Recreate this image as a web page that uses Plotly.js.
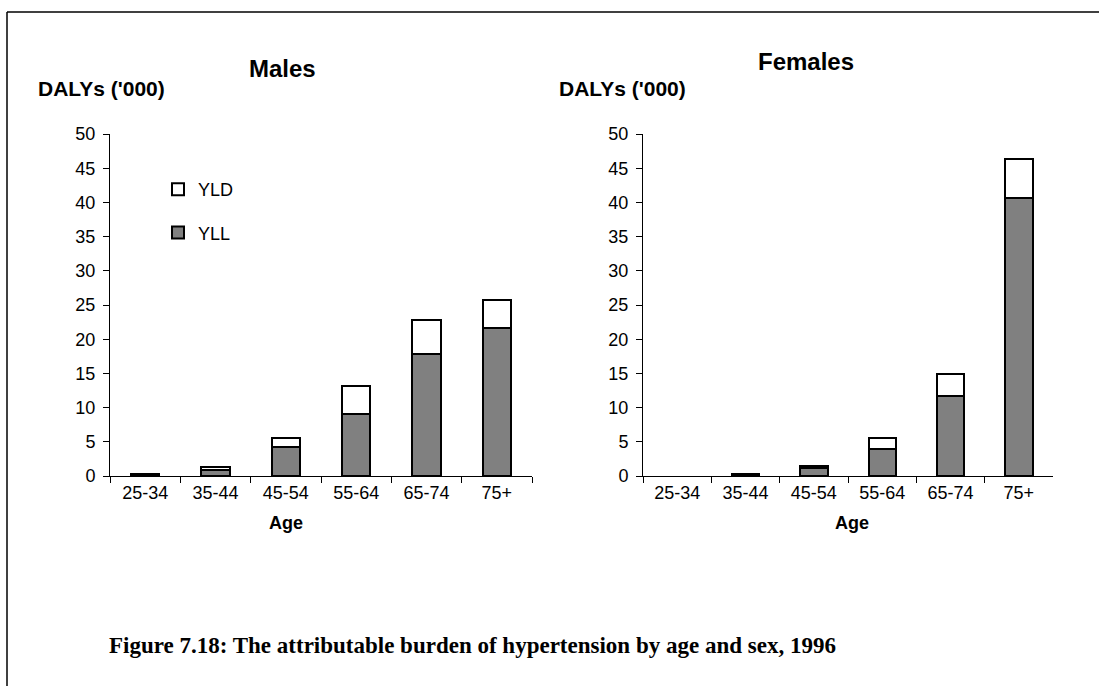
<!DOCTYPE html>
<html>
<head>
<meta charset="utf-8">
<script src="https://cdn.plot.ly/plotly-3.0.1.min.js"></script>
<style>html,body{margin:0;padding:0;background:#fff;}#chart{width:1099px;height:686px;}</style>
</head>
<body>
<div id="chart"></div>
<script>
// Data (DALYs, '000)
const ageGroups = ["25-34", "35-44", "45-54", "55-64", "65-74", "75+"];
const malesYLL   = [0.2, 0.9, 4.2, 9.1, 17.9, 21.7];
const malesYLD   = [0.1, 0.4, 1.4, 4.1, 4.9, 4.1];
const femalesYLL = [null, 0.2, 1.1, 3.9, 11.7, 40.7];
const femalesYLD = [null, 0.1, 0.4, 1.6, 3.2, 5.6];
const seriesNames = ["YLL", "YLD"];
const titles = ["Males", "Females"];
const yTitle = "DALYs ('000)";
const xTitle = "Age";
const caption = "Figure 7.18: The attributable burden of hypertension by age and sex, 1996";

const W = 1099, H = 686;
const px = v => v / W, py = v => 1 - v / H;
const sans = "Liberation Sans, Arial, sans-serif";
const gray = "#808080";

function bar(y, name, fill, xa, ya, show, rank) {
  return {
    type: "bar", x: ageGroups, y: y, name: name, xaxis: xa, yaxis: ya,
    showlegend: show, legendgroup: name, legendrank: rank, width: 0.4,
    marker: {color: fill, line: {color: "#000", width: 2}},
    hoverinfo: "x+y+name"
  };
}

const traces = [
  bar(malesYLL, seriesNames[0], gray, "x", "y", true, 2),
  bar(malesYLD, seriesNames[1], "#ffffff", "x", "y", true, 1),
  bar(femalesYLL, seriesNames[0], gray, "x2", "y2", false, 2),
  bar(femalesYLD, seriesNames[1], "#ffffff", "x2", "y2", false, 1)
];

const xax = dom => ({
  domain: dom, type: "category", showgrid: false, zeroline: false,
  showline: true, linecolor: "#000", linewidth: 1,
  ticks: "outside", tickson: "boundaries", ticklen: 6, tickcolor: "#000",
  tickfont: {family: sans, size: 18, color: "#000"}, fixedrange: true
});
const yax = (anchor) => ({
  domain: [py(476), py(134)], range: [0, 50], anchor: anchor,
  tickvals: [0,5,10,15,20,25,30,35,40,45,50], showgrid: false, zeroline: false,
  showline: true, linecolor: "#000", linewidth: 1,
  ticks: "outside", ticklen: 6, tickcolor: "#000", ticklabelstandoff: 4,
  tickfont: {family: sans, size: 18, color: "#000"}, fixedrange: true
});

const ann = (text, x, y, size, bold, xanchor, family) => ({
  text: bold ? "<b>" + text + "</b>" : text, xref: "paper", yref: "paper",
  x: px(x), y: py(y), xanchor: xanchor || "center", yanchor: "middle",
  showarrow: false, font: {family: family || sans, size: size, color: "#000"}
});

const layout = {
  width: W, height: H, margin: {l: 0, r: 0, t: 0, b: 0},
  paper_bgcolor: "#fff", plot_bgcolor: "rgba(0,0,0,0)",
  barmode: "stack", bargap: 0.6,
  xaxis: Object.assign(xax([px(110), px(532)]), {anchor: "y"}),
  yaxis: yax("x"),
  xaxis2: Object.assign(xax([px(643), px(1053)]), {anchor: "y2"}),
  yaxis2: yax("x2"),
  showlegend: true,
  legend: {
    x: px(158), y: py(171), xanchor: "left", yanchor: "top",
    traceorder: "grouped", tracegroupgap: 17,
    bgcolor: "rgba(0,0,0,0)", borderwidth: 0,
    font: {family: sans, size: 18, color: "#000"},
    itemwidth: 30
  },
  annotations: [
    ann(titles[0], 282, 68, 24, true),
    ann(titles[1], 806, 62, 24, true),
    ann(yTitle, 36, 88, 21, true, "left"),
    ann(yTitle, 557, 88, 21, true, "left"),
    ann(xTitle, 286, 523, 18, true),
    ann(xTitle, 852, 523, 18, true),
    ann(caption, 107, 645, 23, true, "left", "Liberation Serif, Times New Roman, serif")
  ],
  shapes: [
    {type: "line", xref: "paper", yref: "paper", x0: px(7), x1: 1, y0: py(12), y1: py(12), line: {color: "#000", width: 1.5}},
    {type: "line", xref: "paper", yref: "paper", x0: px(7), x1: px(7), y0: py(12), y1: 0, line: {color: "#000", width: 1.5}}
  ]
};

Plotly.newPlot("chart", traces, layout, {displayModeBar: false, staticPlot: true});
</script>
</body>
</html>
